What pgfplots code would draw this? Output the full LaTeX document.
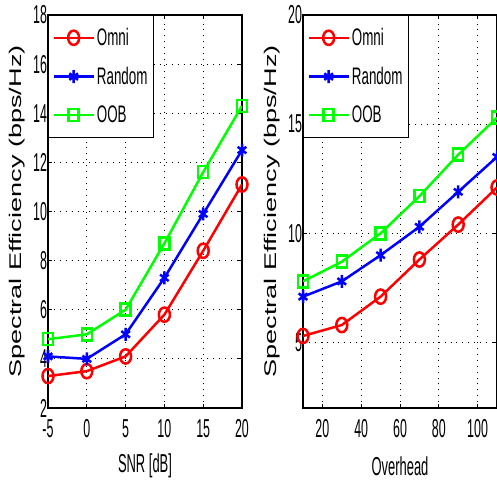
\documentclass[border=0pt]{standalone}
\usepackage{pgfplots}
\pgfplotsset{compat=1.18}
\usepackage{fontspec}
\setmainfont{Liberation Sans}
\newcommand\nar[1]{\scalebox{0.56}[1]{#1}}

\pgfplotsset{
  myax/.style={
    scale only axis, width=194bp, height=393bp,
    axis line style={line width=1.2bp},
    grid=major, grid style={black, line width=0.9bp, dash pattern=on 0.9bp off 5bp},
    tick align=inside, tick style={black, line width=0.8bp}, major tick length=4bp,
    /pgf/number format/assume math mode=true,
    ticklabel style={font=\fontsize{26}{26}\selectfont, xscale=0.48},
    yticklabel style={inner xsep=2bp},
    xticklabel style={yshift=-8bp},
    xlabel style={font=\fontsize{26}{26}\selectfont, xscale=0.5,
                  at={(axis description cs:0.5,-0.148)}, anchor=center},
    ylabel style={font=\fontsize{17}{17}\selectfont,
                  at={(axis description cs:-0.16,0.5)}, anchor=center},
    legend style={at={(0,1)}, anchor=north west, draw=black, line width=0.8bp,
                  font=\fontsize{24}{24}\selectfont, row sep=16bp,
                  inner xsep=4bp, inner ysep=11bp},
    legend cell align=left,
    legend image code/.code={
      \draw[mark repeat=2,mark phase=2] plot coordinates {(0bp,0bp)(20bp,0bp)(40bp,0bp)};},
    every axis plot/.append style={line width=2.5bp},
  },
  omni/.style={color=red, mark=o, mark size=5.5bp, mark options={yscale=1.3}},
  rnd/.style={color=blue, mark=asterisk, mark size=5bp, mark options={yscale=1.3}},
  oob/.style={color=green, mark=square, mark size=5bp, mark options={yscale=1.2}},
}

\begin{document}
\begin{tikzpicture}
\useasboundingbox (0bp,0bp) rectangle (497bp,481bp);

\begin{axis}[myax, at={(48bp,73bp)}, anchor=south west,
    xmin=-5, xmax=20, ymin=2, ymax=18,
    xtick={-5,0,5,10,15,20}, ytick={2,4,...,18},
    xlabel={SNR [dB]},
    ylabel={\scalebox{1.6}[1]{Spectral Efficiency (bps/Hz)}}]
\addplot[omni] coordinates {(-5,3.3)(0,3.5)(5,4.1)(10,5.8)(15,8.4)(20,11.1)};
\addplot[rnd] coordinates {(-5,4.1)(0,4.0)(5,5.0)(10,7.3)(15,9.9)(20,12.5)};
\addplot[oob] coordinates {(-5,4.8)(0,5.0)(5,6.0)(10,8.7)(15,11.6)(20,14.3)};
\legend{\nar{Omni},\nar{Random},\nar{OOB}}
\end{axis}

\begin{axis}[myax, at={(303bp,73bp)}, anchor=south west,
    xmin=10, xmax=110, ymin=2, ymax=20,
    xtick={20,40,...,100}, ytick={5,10,15,20},
    xlabel={Overhead},
    ylabel={\scalebox{1.6}[1]{Spectral Efficiency (bps/Hz)}}]
\addplot[omni] coordinates {(10,5.3)(30,5.8)(50,7.1)(70,8.8)(90,10.4)(110,12.1)};
\addplot[rnd] coordinates {(10,7.1)(30,7.8)(50,9.0)(70,10.3)(90,11.9)(110,13.5)};
\addplot[oob] coordinates {(10,7.8)(30,8.7)(50,10.0)(70,11.7)(90,13.6)(110,15.3)};
\legend{\nar{Omni},\nar{Random},\nar{OOB}}
\end{axis}
\end{tikzpicture}
\end{document}
